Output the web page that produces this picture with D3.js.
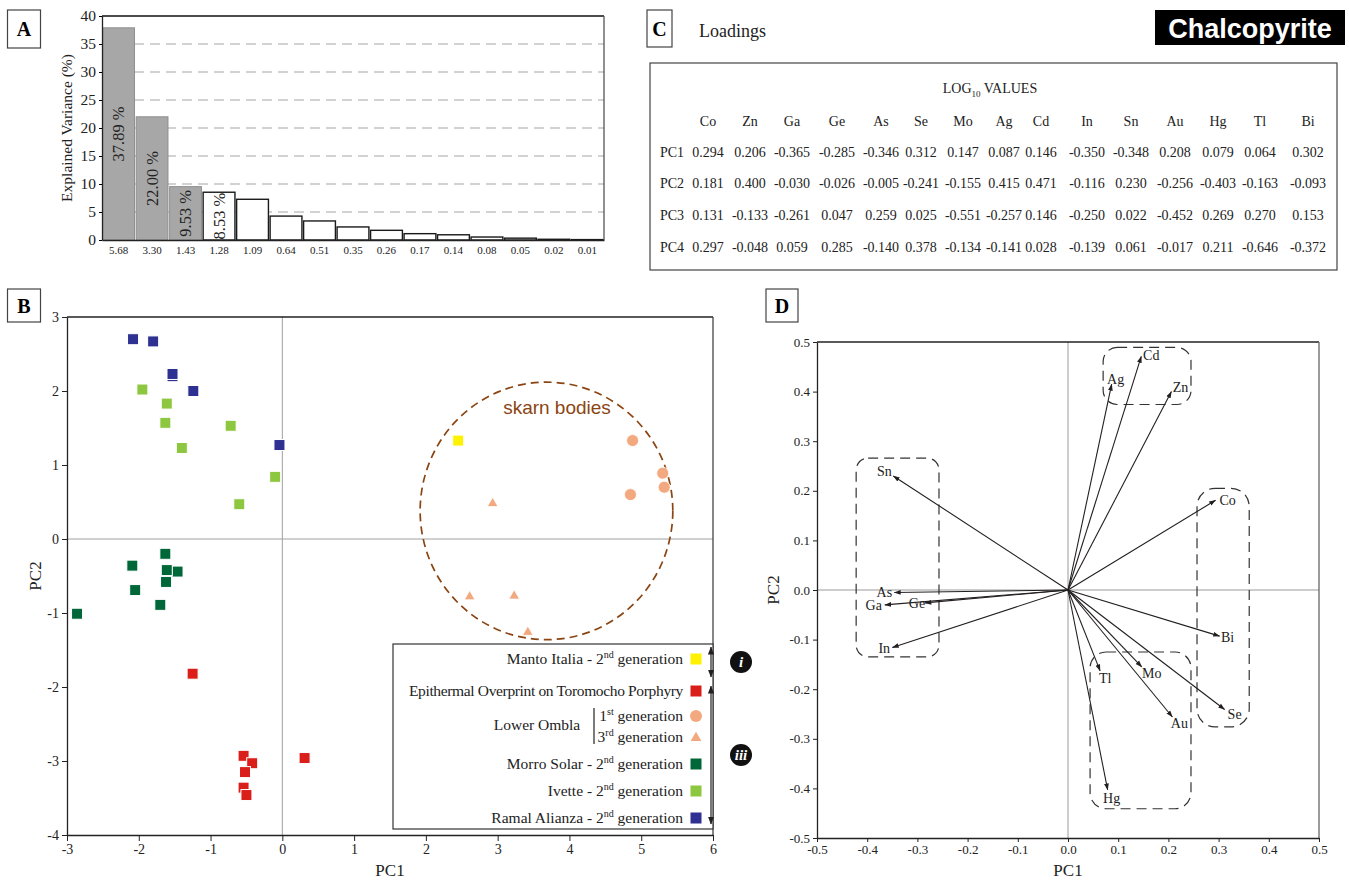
<!DOCTYPE html>
<html><head><meta charset="utf-8">
<script src="https://cdn.jsdelivr.net/npm/d3@7"></script>
<style>
body{margin:0;background:#fff;}
svg{display:block;font-family:"Liberation Serif","Times New Roman",serif;}
</style></head><body>
<svg id="c" width="1349" height="881"></svg>
<script>
// ---------------- DATA ----------------
const eigenvalues = ["5.68","3.30","1.43","1.28","1.09","0.64","0.51","0.35","0.26","0.17","0.14","0.08","0.05","0.02","0.01"];
const explainedVariance = [37.89,22.00,9.53,8.53,7.27,4.27,3.40,2.33,1.73,1.13,0.93,0.53,0.33,0.13,0.07];
const varianceLabels = ["37.89 %","22.00 %","9.53 %","8.53 %"];
const varianceTicks = [0,5,10,15,20,25,30,35,40];

const elements = ["Co","Zn","Ga","Ge","As","Se","Mo","Ag","Cd","In","Sn","Au","Hg","Tl","Bi"];
const pc1 = [0.294,0.206,-0.365,-0.285,-0.346,0.312,0.147,0.087,0.146,-0.350,-0.348,0.208,0.079,0.064,0.302];
const pc2 = [0.181,0.400,-0.030,-0.026,-0.005,-0.241,-0.155,0.415,0.471,-0.116,0.230,-0.256,-0.403,-0.163,-0.093];
const pc3 = [0.131,-0.133,-0.261,0.047,0.259,0.025,-0.551,-0.257,0.146,-0.250,0.022,-0.452,0.269,0.270,0.153];
const pc4 = [0.297,-0.048,0.059,0.285,-0.140,0.378,-0.134,-0.141,0.028,-0.139,0.061,-0.017,0.211,-0.646,-0.372];
const pcNames = ["PC1","PC2","PC3","PC4"];

// Scores (PC1, PC2)
const mantoItalia = [[2.45,1.33]];
const epithermal = [[-1.25,-1.82],[0.31,-2.96],[-0.54,-2.93],[-0.42,-3.03],[-0.52,-3.15],[-0.54,-3.36],[-0.50,-3.46]];
const lowerOmbla1 = [[4.88,1.33],[5.30,0.89],[5.32,0.70],[4.85,0.60]];
const lowerOmbla3 = [[2.93,0.48],[2.61,-0.78],[3.23,-0.77],[3.42,-1.26]];
const morroSolar = [[-1.46,-0.44],[-1.63,-0.20],[-2.09,-0.36],[-1.61,-0.42],[-1.62,-0.58],[-2.05,-0.69],[-1.70,-0.89],[-2.86,-1.01]];
const ivette = [[-1.95,2.02],[-1.61,1.83],[-1.63,1.57],[-1.40,1.23],[-0.72,1.53],[-0.10,0.84],[-0.60,0.47]];
const ramalAlianza = [[-2.08,2.70],[-1.80,2.67],[-1.53,2.20],[-1.53,2.23],[-1.24,2.00],[-0.04,1.27]];
const pcTicksX = [-3,-2,-1,0,1,2,3,4,5,6];
const pcTicksY = [-4,-3,-2,-1,0,1,2,3];
const loadTicks = [-0.5,-0.4,-0.3,-0.2,-0.1,0.0,0.1,0.2,0.3,0.4,0.5];

// skarn ellipse (data units) and loading groups (data units)
const skarnEllipse = {cx:3.68, cy:0.38, rx:1.76, ry:1.74};
const loadingGroups = [
  {x0:-0.422,x1:-0.257,y0:-0.135,y1:0.266,r:12},
  {x0:0.070,x1:0.245,y0:0.374,y1:0.489,r:14},
  {x0:0.257,x1:0.361,y0:-0.276,y1:0.205,r:18},
  {x0:0.044,x1:0.245,y0:-0.441,y1:-0.125,r:16}
];

// ---------------- LAYOUT ----------------
const svg = d3.select("#c");
const ink = "#231f20";
const defs = svg.append("defs");
defs.append("marker").attr("id","ah").attr("viewBox","0 -4 9 8").attr("refX",8.5).attr("refY",0)
  .attr("markerWidth",7).attr("markerHeight",6).attr("markerUnits","userSpaceOnUse").attr("orient","auto")
  .append("path").attr("d","M0,-3.2L9,0L0,3.2Z").attr("fill",ink);
defs.append("marker").attr("id","ah2").attr("viewBox","0 -4 9 8").attr("refX",8.5).attr("refY",0)
  .attr("markerWidth",8).attr("markerHeight",7).attr("markerUnits","userSpaceOnUse").attr("orient","auto-start-reverse")
  .append("path").attr("d","M0,-3.5L9,0L0,3.5Z").attr("fill",ink);

function panelBox(x,y,w,h,label){
  svg.append("rect").attr("x",x).attr("y",y).attr("width",w).attr("height",h)
    .attr("fill","#fff").attr("stroke","#444").attr("stroke-width",1.2);
  svg.append("text").attr("x",x+w/2).attr("y",y+h/2+7).attr("text-anchor","middle")
    .attr("font-weight","bold").attr("font-size",20).text(label);
}
const fmtInt = d => String(d).replace("\u2212","-");
const fmt1 = d => d.toFixed(1);

// ================= PANEL A =================
(function(){
  const L=102,R=604,T=16,B=240;
  const x = d3.scaleBand().domain(eigenvalues).range([L,R]).paddingInner(0.05).paddingOuter(0.02);
  const y = d3.scaleLinear().domain([0,40]).range([B,T]);
  const g = svg.append("g");
  g.selectAll("line.grid").data(varianceTicks.filter(d=>d>0&&d<40)).join("line")
    .attr("x1",L).attr("x2",R).attr("y1",d=>y(d)).attr("y2",d=>y(d))
    .attr("stroke","#c4c4c4").attr("stroke-width",1.3).attr("stroke-dasharray","10,6");
  g.selectAll("rect.bar").data(explainedVariance).join("rect")
    .attr("x",(d,i)=>x(eigenvalues[i])).attr("width",x.bandwidth())
    .attr("y",d=>y(d)).attr("height",d=>B-y(d))
    .attr("fill",(d,i)=>i<3?"#a7a7a7":"#fff")
    .attr("stroke",(d,i)=>i<3?"#8f8f8f":"#1a1a1a").attr("stroke-width",(d,i)=>i<3?1:1.4);
  g.selectAll("text.bl").data(varianceLabels).join("text")
    .attr("transform",(d,i)=>{const cx=x(eigenvalues[i])+x.bandwidth()/2; const cy=(y(explainedVariance[i])+B)/2; return `translate(${cx+5.5},${cy}) rotate(-90)`;})
    .attr("text-anchor","middle").attr("font-size",16.5).attr("fill","#222").text(d=>d);
  const ya = g.append("g").attr("transform",`translate(${L},0)`)
    .call(d3.axisLeft(y).tickValues(varianceTicks).tickSize(3).tickSizeOuter(0).tickPadding(3).tickFormat(fmtInt));
  ya.select(".domain").attr("stroke","#222").attr("stroke-width",1.3);
  ya.selectAll("text").attr("font-size",15.5).attr("font-family","Liberation Serif").attr("fill","#222");
  const xa = g.append("g").attr("transform",`translate(0,${B})`)
    .call(d3.axisBottom(x).tickSize(0).tickPadding(6));
  xa.select(".domain").attr("stroke","#222").attr("stroke-width",1.3);
  xa.selectAll("text").attr("font-size",11).attr("font-family","Liberation Serif").attr("fill","#222");
  g.append("line").attr("x1",L).attr("x2",R).attr("y1",T).attr("y2",T).attr("stroke","#111").attr("stroke-width",1.3);
  g.append("line").attr("x1",R).attr("x2",R).attr("y1",T).attr("y2",B).attr("stroke","#555").attr("stroke-width",1.3);
  g.append("text").attr("transform",`translate(72,${(T+B)/2}) rotate(-90)`).attr("text-anchor","middle")
    .attr("font-size",15.5).attr("fill","#222").text("Explained Variance (%)");
  panelBox(7.5,10,33,38,"A");
})();

// ================= PANEL C =================
(function(){
  panelBox(647,10,25,37,"C");
  svg.append("text").attr("x",699).attr("y",37).attr("font-size",18).attr("fill","#222").text("Loadings");
  svg.append("rect").attr("x",1155).attr("y",10).attr("width",190).attr("height",35).attr("fill","#000");
  svg.append("text").attr("x",1250).attr("y",37.5).attr("text-anchor","middle").attr("fill","#fff")
    .attr("font-family","Liberation Sans, Arial, sans-serif").attr("font-weight","bold").attr("font-size",27).text("Chalcopyrite");
  svg.append("rect").attr("x",650).attr("y",63).attr("width",687).attr("height",207)
    .attr("fill","none").attr("stroke","#444").attr("stroke-width",1.2);
  const t = svg.append("text").attr("x",990).attr("y",93).attr("text-anchor","middle").attr("font-size",14).attr("fill","#222");
  t.append("tspan").text("LOG");
  t.append("tspan").attr("font-size",9).attr("dy",4).text("10");
  t.append("tspan").attr("dy",-4).text(" VALUES");
  const colX = [708,750,792,837,881,921,963,1004,1041,1087,1131,1175,1218,1260,1308];
  const rowY = [126,157,188,220,252];
  svg.append("g").selectAll("text").data(elements).join("text")
    .attr("x",(d,i)=>colX[i]).attr("y",rowY[0]).attr("text-anchor","middle").attr("font-size",14).attr("fill","#222").text(d=>d);
  [pc1,pc2,pc3,pc4].forEach((arr,r)=>{
    svg.append("text").attr("x",672).attr("y",rowY[r+1]).attr("text-anchor","middle").attr("font-size",14).attr("fill","#222").text(pcNames[r]);
    svg.append("g").selectAll("text").data(arr).join("text")
      .attr("x",(d,i)=>colX[i]).attr("y",rowY[r+1]).attr("text-anchor","middle").attr("font-size",14).attr("fill","#222")
      .text(d=>d.toFixed(3));
  });
})();

// ================= PANEL B =================
(function(){
  const L=67,R=713,T=317,B=835;
  const x = d3.scaleLinear().domain([-3,6]).range([L,R]);
  const y = d3.scaleLinear().domain([-4,3]).range([B,T]);
  const g = svg.append("g");
  g.append("line").attr("x1",x(0)).attr("x2",x(0)).attr("y1",T).attr("y2",B).attr("stroke","#a0a0a0").attr("stroke-width",1);
  g.append("line").attr("x1",L).attr("x2",R).attr("y1",y(0)).attr("y2",y(0)).attr("stroke","#a0a0a0").attr("stroke-width",1);
  g.append("line").attr("x1",L).attr("x2",R).attr("y1",T).attr("y2",T).attr("stroke","#222").attr("stroke-width",1.3);
  g.append("line").attr("x1",R).attr("x2",R).attr("y1",T).attr("y2",B).attr("stroke","#444").attr("stroke-width",1.3);
  const xa = g.append("g").attr("transform",`translate(0,${B})`)
    .call(d3.axisBottom(x).tickValues(pcTicksX).tickFormat(fmtInt).tickSize(6).tickSizeOuter(0).tickPadding(3));
  const ya = g.append("g").attr("transform",`translate(${L},0)`)
    .call(d3.axisLeft(y).tickValues(pcTicksY).tickFormat(fmtInt).tickSize(5).tickSizeOuter(0).tickPadding(3));
  [xa,ya].forEach(a=>{a.select(".domain").attr("stroke","#222").attr("stroke-width",1.3);
    a.selectAll("line").attr("stroke","#222");
    a.selectAll("text").attr("font-size",14).attr("font-family","Liberation Serif").attr("fill","#222");});
  g.append("text").attr("x",(L+R)/2).attr("y",876).attr("text-anchor","middle").attr("font-size",17).attr("fill","#222").text("PC1");
  g.append("text").attr("transform",`translate(41,${(T+B)/2}) rotate(-90)`).attr("text-anchor","middle").attr("font-size",17).attr("fill","#222").text("PC2");

  g.append("ellipse").attr("cx",x(skarnEllipse.cx)).attr("cy",y(skarnEllipse.cy))
    .attr("rx",x(skarnEllipse.cx+skarnEllipse.rx)-x(skarnEllipse.cx)).attr("ry",y(skarnEllipse.cy)-y(skarnEllipse.cy+skarnEllipse.ry))
    .attr("fill","none").attr("stroke","#8b4513").attr("stroke-width",1.7).attr("stroke-dasharray","8,5");
  g.append("text").attr("x",557).attr("y",414).attr("text-anchor","middle").attr("font-family","Liberation Sans, Arial, sans-serif")
    .attr("font-size",19).attr("fill","#8b4513").text("skarn bodies");

  const S=11;
  function squares(data,color){
    g.append("g").selectAll("rect").data(data).join("rect")
      .attr("x",d=>x(d[0])-S/2).attr("y",d=>y(d[1])-S/2).attr("width",S).attr("height",S)
      .attr("fill",color).attr("stroke","#fff").attr("stroke-width",1);
  }
  squares(morroSolar,"#006838");
  squares(ivette,"#8dc63f");
  squares(ramalAlianza,"#2e3192");
  squares(epithermal,"#da1f1a");
  squares(mantoItalia,"#fff200");
  g.append("g").selectAll("circle").data(lowerOmbla1).join("circle")
    .attr("cx",d=>x(d[0])).attr("cy",d=>y(d[1])).attr("r",6).attr("fill","#f3a97f").attr("stroke","#fff").attr("stroke-width",0.8);
  const tri = d3.symbol().type(d3.symbolTriangle).size(50);
  g.append("g").selectAll("path").data(lowerOmbla3).join("path")
    .attr("transform",d=>`translate(${x(d[0])},${y(d[1])})`).attr("d",tri()).attr("fill","#f3a97f").attr("stroke","#fff").attr("stroke-width",0.8);

  // legend
  const lg = svg.append("g");
  lg.append("rect").attr("x",393).attr("y",644).attr("width",320).attr("height",185).attr("fill","#fff").attr("stroke","#333").attr("stroke-width",1.2);
  const TX=683, MX=696;
  function entry(yc, parts){
    const t = lg.append("text").attr("x",TX).attr("y",yc+5).attr("text-anchor","end").attr("font-size",15.5).attr("fill","#222");
    let pending = false;
    parts.forEach(p=>{
      if(typeof p==="string"){ const ts=t.append("tspan").text(p); if(pending){ts.attr("dy",6); pending=false;} }
      else { t.append("tspan").attr("font-size",10).attr("dy",-6).text(p.sup); pending=true; }
    });
    return t;
  }
  entry(659,["Manto Italia - 2",{sup:"nd"}," generation"]);
  entry(691,["Epithermal Overprint on Toromocho Porphyry"]).attr("letter-spacing",-0.35);
  entry(716,["1",{sup:"st"}," generation"]);
  entry(737,["3",{sup:"rd"}," generation"]);
  entry(764,["Morro Solar - 2",{sup:"nd"}," generation"]);
  entry(791,["Ivette - 2",{sup:"nd"}," generation"]);
  entry(818,["Ramal Alianza - 2",{sup:"nd"}," generation"]);
  lg.append("text").attr("x",537).attr("y",730).attr("text-anchor","middle").attr("font-size",15.5).attr("fill","#222").text("Lower Ombla");
  lg.append("line").attr("x1",594).attr("x2",594).attr("y1",708).attr("y2",744).attr("stroke","#222").attr("stroke-width",1.2);
  const legSq = [[659,"#fff200"],[691,"#da1f1a"],[764,"#006838"],[791,"#8dc63f"],[818,"#2e3192"]];
  lg.selectAll("rect.ls").data(legSq).join("rect").attr("x",MX-5.5).attr("y",d=>d[0]-5.5).attr("width",11).attr("height",11).attr("fill",d=>d[1]);
  lg.append("circle").attr("cx",MX).attr("cy",716).attr("r",6).attr("fill","#f3a97f");
  lg.append("path").attr("transform",`translate(${MX},738)`).attr("d",tri()).attr("fill","#f3a97f");
  lg.append("line").attr("x1",711).attr("x2",711).attr("y1",647).attr("y2",677).attr("stroke",ink).attr("stroke-width",1.2)
    .attr("marker-start","url(#ah2)").attr("marker-end","url(#ah2)");
  lg.append("line").attr("x1",711).attr("x2",711).attr("y1",686).attr("y2",824).attr("stroke",ink).attr("stroke-width",1.2)
    .attr("marker-start","url(#ah2)").attr("marker-end","url(#ah2)");
  [[662,"i"],[755,"iii"]].forEach(([cy,lab])=>{
    lg.append("circle").attr("cx",741).attr("cy",cy).attr("r",11).attr("fill","#111");
    lg.append("text").attr("x",741).attr("y",cy+5).attr("text-anchor","middle").attr("fill","#fff")
      .attr("font-style","italic").attr("font-weight","bold").attr("font-size",15).text(lab);
  });
  panelBox(7.5,289,33,33,"B");
})();

// ================= PANEL D =================
(function(){
  const L=817,R=1319,T=342,B=838;
  const x = d3.scaleLinear().domain([-0.5,0.5]).range([L,R]);
  const y = d3.scaleLinear().domain([-0.5,0.5]).range([B,T]);
  const g = svg.append("g");
  g.append("line").attr("x1",x(0)).attr("x2",x(0)).attr("y1",T).attr("y2",B).attr("stroke","#9a9a9a").attr("stroke-width",1);
  g.append("line").attr("x1",L).attr("x2",R).attr("y1",y(0)).attr("y2",y(0)).attr("stroke","#9a9a9a").attr("stroke-width",1);
  g.append("line").attr("x1",L).attr("x2",R).attr("y1",T).attr("y2",T).attr("stroke","#222").attr("stroke-width",1.3);
  g.append("line").attr("x1",R).attr("x2",R).attr("y1",T).attr("y2",B).attr("stroke","#666").attr("stroke-width",1.3);
  const xa = g.append("g").attr("transform",`translate(0,${B})`)
    .call(d3.axisBottom(x).tickValues(loadTicks).tickFormat(fmt1).tickSize(4).tickSizeOuter(0).tickPadding(3));
  const ya = g.append("g").attr("transform",`translate(${L},0)`)
    .call(d3.axisLeft(y).tickValues(loadTicks).tickFormat(fmt1).tickSize(4).tickSizeOuter(0).tickPadding(3));
  [xa,ya].forEach(a=>{a.select(".domain").attr("stroke","#222").attr("stroke-width",1.3);
    a.selectAll("line").attr("stroke","#222");
    a.selectAll("text").attr("font-size",13).attr("font-family","Liberation Serif").attr("fill","#222");});
  g.append("text").attr("x",x(0)).attr("y",876).attr("text-anchor","middle").attr("font-size",17).attr("fill","#222").text("PC1");
  g.append("text").attr("transform",`translate(779,${y(0)}) rotate(-90)`).attr("text-anchor","middle").attr("font-size",17).attr("fill","#222").text("PC2");

  g.append("g").selectAll("rect").data(loadingGroups).join("rect")
    .attr("x",d=>x(d.x0)).attr("y",d=>y(d.y1)).attr("width",d=>x(d.x1)-x(d.x0)).attr("height",d=>y(d.y0)-y(d.y1))
    .attr("rx",d=>d.r).attr("ry",d=>d.r)
    .attr("fill","none").attr("stroke","#333").attr("stroke-width",1.2).attr("stroke-dasharray","10,6");
  g.append("g").selectAll("line").data(elements).join("line")
    .attr("x1",x(0)).attr("y1",y(0)).attr("x2",(d,i)=>x(pc1[i])).attr("y2",(d,i)=>y(pc2[i]))
    .attr("stroke",ink).attr("stroke-width",1.1).attr("marker-end","url(#ah)");
  const off = {Co:[12,0],Zn:[9,-5],Ga:[-11,0],Ge:[-8,0],As:[-10,0],Se:[10,4],Mo:[10,6],Ag:[4,-5],Cd:[10,-1],
               In:[-8,0],Sn:[-9,-5],Au:[7,6],Hg:[4,8],Tl:[5,7],Bi:[8,1]};
  g.append("g").selectAll("text").data(elements).join("text")
    .attr("x",(d,i)=>x(pc1[i])+off[d][0]).attr("y",(d,i)=>y(pc2[i])+off[d][1]+5)
    .attr("text-anchor","middle").attr("font-size",14).attr("fill","#222").text(d=>d);
  panelBox(766,289,32,33,"D");
})();
</script>
</body></html>
